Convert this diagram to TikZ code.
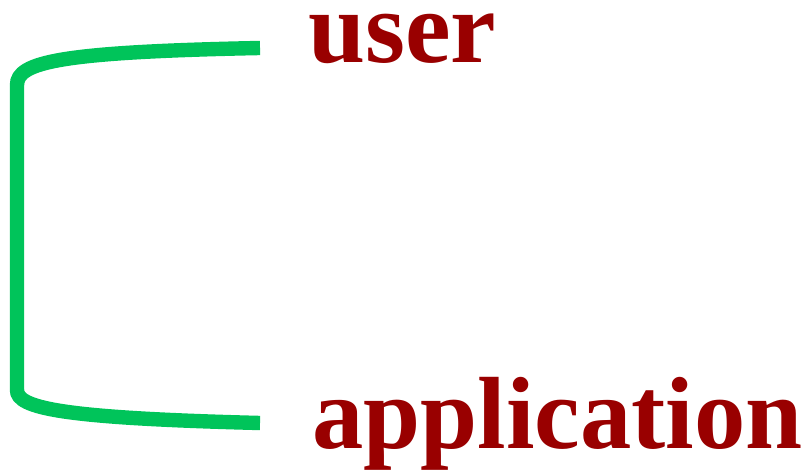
\documentclass[tikz,border=0pt]{standalone}
\usepackage{fontspec}
\setmainfont{Liberation Serif}
\usetikzlibrary{calc}
\definecolor{bracegreen}{RGB}{0,196,90}
\definecolor{labelred}{RGB}{153,0,0}
\begin{document}
\begin{tikzpicture}[
    label/.style={inner sep=0pt, anchor=base west, text=labelred, font=\fontsize{73}{80}\selectfont\bfseries},
    brace/.style={draw=bracegreen, line width=0.36cm}
]
    \useasboundingbox (0,0) rectangle (20.275,11.875);
    \node[label] (user) at (7.7,10.3) {user};
    \node[label] (app) at (7.8,0.65) {application};

    \draw[brace] ($(user.base west)+(-1.2,0.375)$) .. controls (1.5,10.575) and (0.425,10.325) .. (0.425,9.75)
        -- (0.425,2.125) .. controls (0.425,1.675) and (1.5,1.425) .. ($(app.base west)+(-1.3,0.65)$);
\end{tikzpicture}
\end{document}
